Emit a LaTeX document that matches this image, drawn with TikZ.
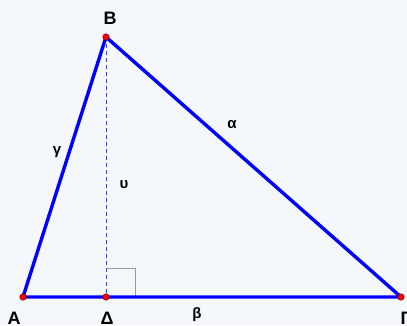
\documentclass[tikz,border=0pt]{standalone}
\usepackage{fontspec}
\setmainfont{Liberation Sans}
\definecolor{sideblue}{RGB}{0,0,255}
\definecolor{dashblue}{RGB}{60,60,255}
\definecolor{ptedge}{RGB}{120,0,0}
\definecolor{bgc}{RGB}{244,247,251}
\begin{document}
\begin{tikzpicture}[x=1pt,y=-1pt,
  side/.style={draw=sideblue,line width=3.4pt,line cap=round,line join=round},
  pt/.style={circle,fill=red,draw=ptedge,line width=0.5pt,inner sep=0pt,minimum size=6.5pt},
  lbl/.style={font=\bfseries\fontsize{18}{18}\selectfont,text=black,inner sep=0pt},
  slbl/.style={font=\bfseries\fontsize{15}{15}\selectfont,text=black,inner sep=0pt}]
\useasboundingbox[fill=bgc] (0,0) rectangle (407,325);
\coordinate (A) at (23,297);
\coordinate (D) at (106,297);
\coordinate (G) at (401,297);
\coordinate (B) at (106,37);
\draw[gray!80,line width=0.9pt] (106,268) -- (135,268) -- (135,297);
\draw[dashblue,line width=0.8pt,dash pattern=on 4pt off 3pt] (B) -- (D);
\draw[side] (A) -- (B) -- (G) -- cycle;
\node[pt] (pA) at (A) {};
\node[pt] (pD) at (D) {};
\node[pt] (pG) at (G) {};
\node[pt] (pB) at (B) {};
\node[lbl] (lB) at (110,18) {B};
\node[lbl] (lA) at (14,318) {A};
\node[lbl] (lD) at (107,318) {Δ};
\node[lbl] (lG) at (406,318) {Γ};
\node[slbl] (lb) at (197,315) {β};
\node[slbl] (lg) at (57,152) {γ};
\node[slbl] (lu) at (124,185) {υ};
\node[slbl] (la) at (232,125) {α};
\end{tikzpicture}
\end{document}
